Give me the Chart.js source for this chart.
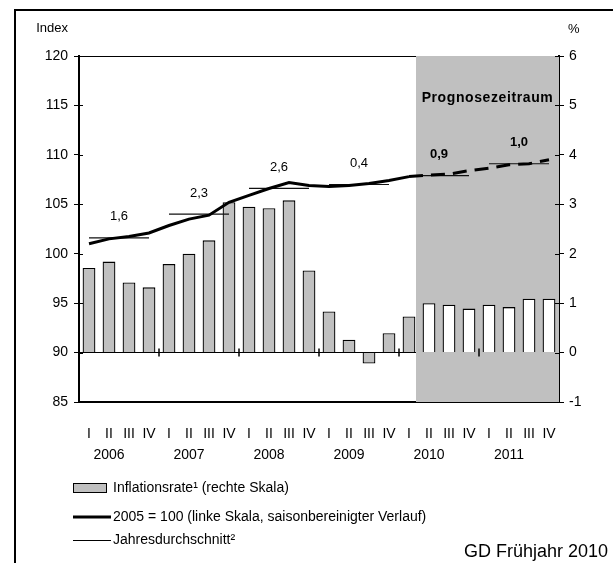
<!DOCTYPE html>
<html>
<head>
<meta charset="utf-8">
<style>
  body { margin: 0; background: #fff; }
  canvas { display: block; }
</style>
</head>
<body>
<canvas id="myChart" width="613" height="563" style="width:613px;height:563px"></canvas>

<script src="https://cdn.jsdelivr.net/npm/chart.js"></script>

<script>
// quarterly data 2006 I - 2011 IV
const years = ['2006', '2007', '2008', '2009', '2010', '2011'];
const quarters = ['I', 'II', 'III', 'IV'];
const inflation = [1.71, 1.84, 1.42, 1.32, 1.79, 2.0, 2.27, 3.04,
                   2.95, 2.92, 3.08, 1.66, 0.83, 0.26, -0.22, 0.39,
                   0.73, 1.0, 0.97, 0.89, 0.97, 0.92, 1.09, 1.09];
const priceIndex = [101.0, 101.5, 101.75, 102.1, 102.85, 103.5, 103.9, 105.2,
                    105.9, 106.6, 107.2, 106.9, 106.8, 106.9, 107.1, 107.4,
                    107.8, 107.95, 108.05, 108.4, 108.65, 109.0, 109.1, 109.5];
const annualAvg = [101.6, 104.0, 106.6, 107.0, 107.9, 109.1];
const annualRate = ['1,6', '2,3', '2,6', '0,4', '0,9', '1,0'];
const firstForecast = 17;   // 2010 II
const firstForecastYear = 4; // 2010
const legendLabels = ['Inflationsrate\u00B9 (rechte Skala)',
                      '2005 = 100 (linke Skala, saisonbereinigter Verlauf)',
                      'Jahresdurchschnitt\u00B2'];
const source = 'GD Fr\u00FChjahr 2010';

const labels = [];
years.forEach(y => quarters.forEach((q, i) => labels.push([q, i == 1 ? y : ''])));
const avgPoints = [];
annualAvg.forEach(v => { for (let i = 0; i < 4; i++) avgPoints.push(v); });

const FONT = 'Liberation Sans, Arial, sans-serif';
const GREY = '#c0c0c0';

const decor = {
  id: 'decor',
  beforeDatasetsDraw(chart) {
    const {ctx, chartArea: a, scales: {x}} = chart;
    const step = x.getPixelForValue(1) - x.getPixelForValue(0);
    const left = x.getPixelForValue(firstForecast - 1) + step * 0.35;
    ctx.save();
    ctx.fillStyle = GREY;
    ctx.fillRect(left, a.top, a.right - left, a.bottom - a.top);
    ctx.font = 'bold 14px ' + FONT;
    ctx.letterSpacing = '0.6px';
    ctx.fillStyle = '#000';
    ctx.textAlign = 'center';
    ctx.textBaseline = 'middle';
    ctx.fillText('Prognosezeitraum', (left + a.right) / 2, a.top + 42);
    ctx.restore();
  },
  afterDatasetsDraw(chart) {
    const {ctx, chartArea: a, scales: {x, y, y1}} = chart;
    ctx.save();
    // year separators on the zero line
    const y0 = y1.getPixelForValue(0);
    ctx.strokeStyle = '#000';
    ctx.lineWidth = 1.5;
    for (let k = 1; k < years.length; k++) {
      const px = (x.getPixelForValue(4 * k - 1) + x.getPixelForValue(4 * k)) / 2;
      ctx.beginPath();
      ctx.moveTo(px, y0 - 4);
      ctx.lineTo(px, y0 + 4);
      ctx.stroke();
    }
    // annual rates above the average lines
    ctx.fillStyle = '#000';
    ctx.textAlign = 'center';
    ctx.textBaseline = 'middle';
    annualRate.forEach((r, k) => {
      ctx.font = (k >= firstForecastYear ? 'bold ' : '') + '13px ' + FONT;
      const px = (x.getPixelForValue(4 * k + 1) + x.getPixelForValue(4 * k + 2)) / 2;
      ctx.fillText(r, px, y.getPixelForValue(annualAvg[k]) - 21);
    });
    ctx.restore();
  },
  afterDraw(chart) {
    const {ctx, chartArea: a} = chart;
    ctx.save();
    // frame
    ctx.strokeStyle = '#000';
    ctx.lineWidth = 2;
    ctx.beginPath();
    ctx.moveTo(15, 563);
    ctx.lineTo(15, 10);
    ctx.lineTo(613, 10);
    ctx.stroke();
    // axis titles
    ctx.fillStyle = '#000';
    ctx.font = '13px ' + FONT;
    ctx.textBaseline = 'middle';
    ctx.textAlign = 'right';
    ctx.fillText('Index', a.left - 11, 28);
    ctx.textAlign = 'left';
    ctx.fillText('%', a.right + 9, 29);
    // legend
    const lx = a.left - 6;
    ctx.font = '14px ' + FONT;
    ctx.fillStyle = GREY;
    ctx.fillRect(lx, 483, 34, 10);
    ctx.lineWidth = 1;
    ctx.strokeRect(lx + 0.5, 483.5, 33, 9);
    ctx.fillStyle = '#000';
    ctx.fillText(legendLabels[0], lx + 40, 488);
    ctx.lineWidth = 3;
    ctx.beginPath();
    ctx.moveTo(lx, 517);
    ctx.lineTo(lx + 38, 517);
    ctx.stroke();
    ctx.fillText(legendLabels[1], lx + 40, 517);
    ctx.lineWidth = 1;
    ctx.beginPath();
    ctx.moveTo(lx, 540.5);
    ctx.lineTo(lx + 38, 540.5);
    ctx.stroke();
    ctx.fillText(legendLabels[2], lx + 40, 540);
    // source
    ctx.font = '18px ' + FONT;
    ctx.textAlign = 'right';
    ctx.fillText(source, 608, 552);
    // inner halves of the y tick marks
    ctx.lineWidth = 1;
    chart.scales.y.ticks.forEach(t => {
      const py = Math.round(chart.scales.y.getPixelForValue(t.value)) + 0.5;
      ctx.beginPath(); ctx.moveTo(a.left, py); ctx.lineTo(a.left + 4, py); ctx.stroke();
    });
    chart.scales.y1.ticks.forEach(t => {
      const py = Math.round(chart.scales.y1.getPixelForValue(t.value)) + 0.5;
      ctx.beginPath(); ctx.moveTo(a.right - 4, py); ctx.lineTo(a.right, py); ctx.stroke();
    });
    ctx.restore();
  }
};

const ctx = document.getElementById('myChart');
new Chart(ctx, {
  data: {
    labels: labels,
    datasets: [{
      type: 'line',
      label: legendLabels[1],
      data: priceIndex,
      yAxisID: 'y',
      borderColor: '#000',
      borderWidth: 3,
      pointRadius: 0,
      tension: 0,
      order: 1,
      segment: {
        borderDash: c => c.p1DataIndex >= firstForecast ? [14, 8] : undefined
      }
    }, {
      type: 'line',
      label: legendLabels[2],
      data: avgPoints,
      yAxisID: 'y',
      borderColor: '#111',
      borderWidth: 1.2,
      pointRadius: 0,
      order: 2,
      segment: {
        borderColor: c => Math.floor(c.p0DataIndex / 4) != Math.floor(c.p1DataIndex / 4) ? 'transparent' : '#111'
      }
    }, {
      type: 'bar',
      label: legendLabels[0],
      data: inflation,
      yAxisID: 'y1',
      backgroundColor: inflation.map((v, i) => i >= firstForecast ? '#fff' : GREY),
      borderColor: '#000',
      borderWidth: 1.3,
      categoryPercentage: 1,
      barPercentage: 0.64,
      order: 3
    }]
  },
  options: {
    responsive: false,
    animation: false,
    layout: { padding: { top: 56, left: 0, right: 0, bottom: 0 } },
    plugins: { legend: { display: false }, tooltip: { enabled: false } },
    scales: {
      x: {
        offset: true,
        grid: { display: false, drawTicks: false },
        border: { display: true, color: '#000', width: 2 },
        ticks: {
          color: '#000',
          font: { family: FONT, size: 14, lineHeight: 1.5 },
          padding: 22,
          maxRotation: 0,
          autoSkip: false
        },
        afterFit: s => { s.height = 161; }
      },
      y: {
        position: 'left',
        min: 85,
        max: 120,
        ticks: { stepSize: 5, color: '#000', padding: 6, font: { family: FONT, size: 14 } },
        grid: {
          color: c => c.tick && c.tick.value == 120 ? '#000' : 'transparent',
          tickColor: '#000',
          tickLength: 5,
          lineWidth: 1
        },
        border: { display: true, color: '#000', width: 2 },
        afterFit: s => { s.width = 79; }
      },
      y1: {
        position: 'right',
        min: -1,
        max: 6,
        ticks: { stepSize: 1, color: '#000', padding: 5, font: { family: FONT, size: 14 } },
        grid: {
          color: c => c.tick && c.tick.value == 0 ? '#000' : 'transparent',
          tickColor: '#000',
          tickLength: 5,
          lineWidth: 1
        },
        border: { display: true, color: '#000', width: 2 },
        afterFit: s => { s.width = 54; }
      }
    }
  },
  plugins: [decor]
});
</script>
</body>
</html>
